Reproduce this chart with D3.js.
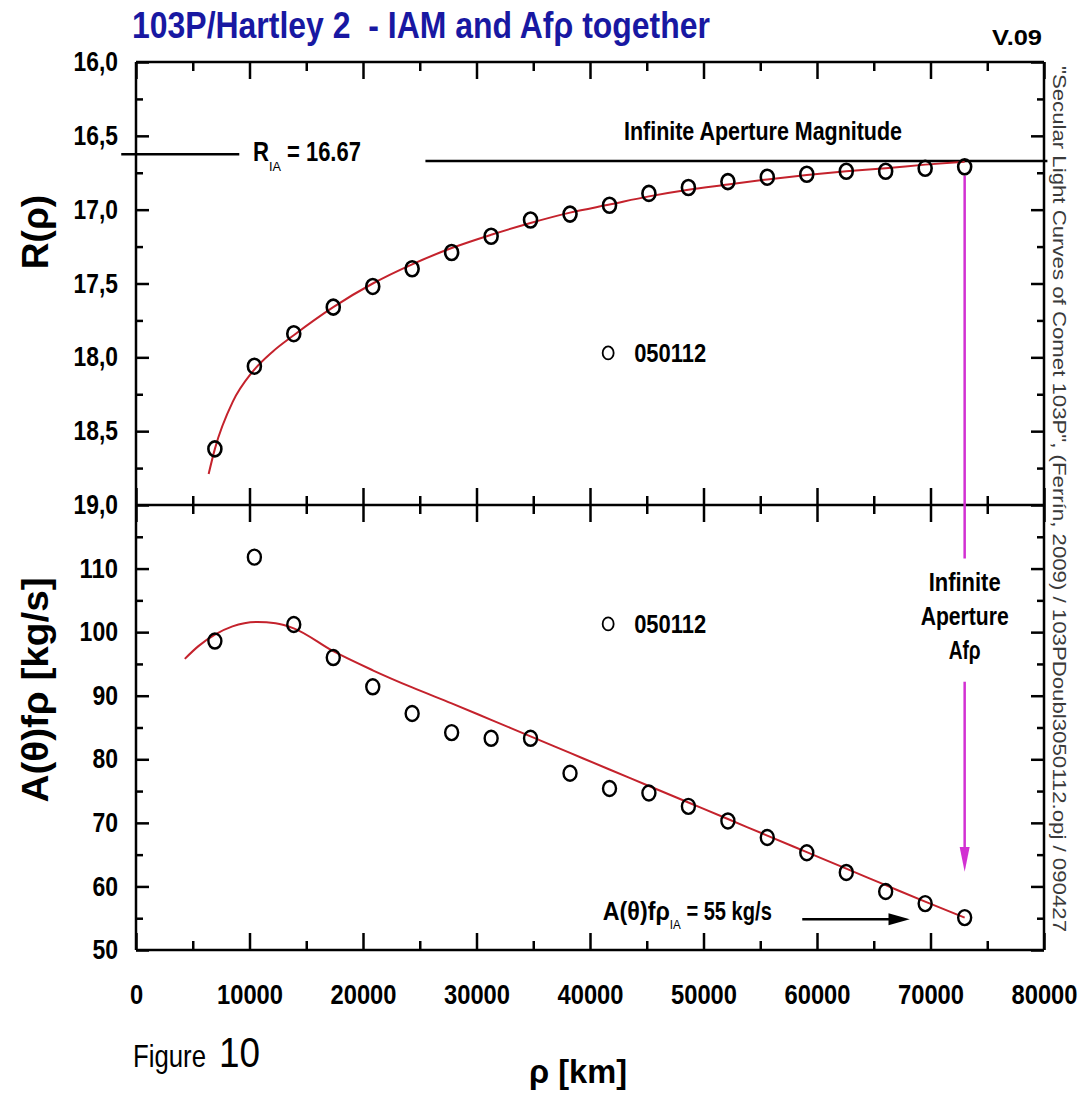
<!DOCTYPE html>
<html>
<head>
<meta charset="utf-8">
<script src="https://cdn.jsdelivr.net/npm/d3@7"></script>
<style>
  html, body { margin: 0; padding: 0; background: #fff; }
  svg { display: block; }
  text { font-family: "Liberation Sans Narrow", "Arial Narrow", "Liberation Sans", Arial, sans-serif; white-space: pre; }
</style>
</head>
<body>
<svg id="chart" width="1083" height="1095"></svg>
<script>
// aperture radius of each measurement [km]
const rho = [6950, 10430, 13900, 17380, 20860, 24330, 27810, 31290, 34760, 38240,
  41720, 45190, 48670, 52150, 55620, 59100, 62580, 66050, 69530, 73010];
// R magnitude inside the aperture
const rMag = [18.62, 18.06, 17.84, 17.66, 17.52, 17.40, 17.29, 17.18, 17.07, 17.03,
  16.97, 16.89, 16.85, 16.81, 16.78, 16.76, 16.74, 16.74, 16.72, 16.71];
// A(theta)f rho [kg/s]
const afrho = [98.6, 111.8, 101.2, 96.0, 91.4, 87.2, 84.2, 83.3, 83.3, 77.8,
  75.4, 74.7, 72.6, 70.3, 67.7, 65.3, 62.2, 59.2, 57.3, 55.1];

// red fit curves
const fitRhoTop = [6400, 6950, 8530, 10240, 12060, 13900, 17380, 20860, 24330, 27810, 31290,
  34760, 38240, 41720, 45190, 48670, 52150, 55620, 59100, 62580, 66050, 69530, 73010];
const fitRTop = [18.79, 18.62, 18.30, 18.10, 17.96, 17.85, 17.66, 17.50, 17.37, 17.26, 17.17,
  17.09, 17.02, 16.965, 16.91, 16.865, 16.83, 16.795, 16.765, 16.74, 16.72, 16.695, 16.675];
const fitRhoBot = [4300, 5500, 6950, 8500, 10700, 12300, 13900, 17380, 20860, 24330, 27810,
  31290, 34760, 38240, 41720, 45190, 48670, 52150, 55620, 59100, 62580, 66050, 69530, 73010];
const fitAfBot = [95.8, 97.8, 99.6, 100.9, 101.6, 101.4, 100.6, 97.0, 94.0, 91.3, 88.8,
  86.2, 83.6, 81.0, 78.4, 75.8, 73.2, 70.6, 68.0, 65.4, 62.8, 60.2, 57.6, 55.1];

const xMajor = [0, 10000, 20000, 30000, 40000, 50000, 60000, 70000, 80000];
const xMinor = [5000, 15000, 25000, 35000, 45000, 55000, 65000, 75000];
const rMajor = [16.0, 16.5, 17.0, 17.5, 18.0, 18.5, 19.0];
const rMinor = [16.25, 16.75, 17.25, 17.75, 18.25, 18.75];
const afMajor = [50, 60, 70, 80, 90, 100, 110];
const afMinor = [55, 65, 75, 85, 95, 105, 115];

const rIA = 16.67;
const afIA = 55;
const rhoIA = 73010;
const sourceNote = '"Secular Light Curves of Comet 103P", (Ferrín, 2009) / 103PDoubl3050112.opj / 090427';

const L = 136, R = 1044, T = 62, M = 505, B = 950;
const svg = d3.select('#chart');

const x = d3.scaleLinear().domain([0, 80000]).range([L, R]);
const yTop = d3.scaleLinear().domain([16, 19]).range([T, M]);
const yBot = d3.scaleLinear().domain([50, 120]).range([B, M]);

function label(str, px, py, size, opts = {}) {
  const t = svg.append('text')
    .attr('x', px)
    .attr('y', py)
    .attr('font-size', size)
    .attr('font-weight', opts.weight || 'bold')
    .attr('fill', opts.fill || '#000')
    .attr('text-anchor', opts.anchor || 'start')
    .text(str);
  if (opts.len) t.attr('textLength', opts.len).attr('lengthAdjust', 'spacingAndGlyphs');
  if (opts.family) t.style('font-family', opts.family);
  if (opts.transform) t.attr('transform', opts.transform);
  return t;
}

// text with a subscript, parts = [[string, size, weight, length, dy]]
function subLabel(parts, px, py) {
  const t = svg.append('text').attr('x', px).attr('y', py).attr('fill', '#000');
  parts.forEach(([s, size, weight, len, dy]) => {
    t.append('tspan')
      .attr('font-size', size)
      .attr('font-weight', weight)
      .attr('dy', dy)
      .attr('textLength', len)
      .attr('lengthAdjust', 'spacingAndGlyphs')
      .text(s);
  });
  return t;
}

// narrow bold tick labels: about 12.8px per digit, 6px per comma
function styleAxis(g) {
  g.select('.domain').remove();
  g.selectAll('.tick line').attr('stroke', '#000').attr('stroke-width', 2.5);
  g.selectAll('.tick text')
    .attr('font-size', 27)
    .attr('font-weight', 'bold')
    .attr('fill', '#000')
    .attr('lengthAdjust', 'spacingAndGlyphs')
    .attr('textLength', function () {
      const s = this.textContent;
      return s.replace(',', '').length * 12.8 + (s.includes(',') ? 6 : 0);
    });
}

// x ticks: top frame, shared middle line, bottom axis
svg.append('g').attr('transform', `translate(0,${T})`)
  .call(d3.axisTop(x).tickValues(xMajor).tickSize(-17).tickFormat('')).call(styleAxis);
svg.append('g').attr('transform', `translate(0,${T})`)
  .call(d3.axisTop(x).tickValues(xMinor).tickSize(-9).tickFormat('')).call(styleAxis);
svg.append('g').attr('transform', `translate(0,${M})`)
  .call(d3.axisTop(x).tickValues(xMajor).tickSize(-17).tickFormat('')).call(styleAxis);
svg.append('g').attr('transform', `translate(0,${M})`)
  .call(d3.axisBottom(x).tickValues(xMajor).tickSize(-17).tickFormat('')).call(styleAxis);
svg.append('g').attr('transform', `translate(0,${M})`)
  .call(d3.axisTop(x).tickValues(xMinor).tickSize(-9).tickFormat('')).call(styleAxis);
svg.append('g').attr('transform', `translate(0,${M})`)
  .call(d3.axisBottom(x).tickValues(xMinor).tickSize(-9).tickFormat('')).call(styleAxis);
svg.append('g').attr('transform', `translate(0,${B})`)
  .call(d3.axisBottom(x).tickValues(xMajor).tickSize(-17).tickPadding(35).tickFormat(d3.format('d')))
  .call(styleAxis)
  .call(g => g.selectAll('.tick text').attr('font-size', 27)
    .attr('textLength', function () { return this.textContent.length * 13.2; }));
svg.append('g').attr('transform', `translate(0,${B})`)
  .call(d3.axisBottom(x).tickValues(xMinor).tickSize(-9).tickFormat('')).call(styleAxis);

// y ticks, left with labels, right mirrored
const commaFmt = d => d.toFixed(1).replace('.', ',');
svg.append('g').attr('transform', `translate(${L},0)`)
  .call(d3.axisLeft(yTop).tickValues(rMajor).tickSize(-13).tickPadding(18).tickFormat(commaFmt)).call(styleAxis);
svg.append('g').attr('transform', `translate(${L},0)`)
  .call(d3.axisLeft(yTop).tickValues(rMinor).tickSize(-7).tickFormat('')).call(styleAxis);
svg.append('g').attr('transform', `translate(${R},0)`)
  .call(d3.axisRight(yTop).tickValues(rMajor).tickSize(-13).tickFormat('')).call(styleAxis);
svg.append('g').attr('transform', `translate(${R},0)`)
  .call(d3.axisRight(yTop).tickValues(rMinor).tickSize(-7).tickFormat('')).call(styleAxis);
svg.append('g').attr('transform', `translate(${L},0)`)
  .call(d3.axisLeft(yBot).tickValues(afMajor).tickSize(-13).tickPadding(18).tickFormat(d3.format('d'))).call(styleAxis);
svg.append('g').attr('transform', `translate(${L},0)`)
  .call(d3.axisLeft(yBot).tickValues(afMinor).tickSize(-7).tickFormat('')).call(styleAxis);
svg.append('g').attr('transform', `translate(${R},0)`)
  .call(d3.axisRight(yBot).tickValues(afMajor).tickSize(-13).tickFormat('')).call(styleAxis);
svg.append('g').attr('transform', `translate(${R},0)`)
  .call(d3.axisRight(yBot).tickValues(afMinor).tickSize(-7).tickFormat('')).call(styleAxis);

// frame
const frame = svg.append('g').attr('stroke', '#000').attr('stroke-width', 2.5);
[[L, T, R, T], [L, M, R, M], [L, B, R, B], [L, T, L, B], [R, T, R, B]].forEach(([x1, y1, x2, y2]) => {
  frame.append('line').attr('x1', x1).attr('y1', y1).attr('x2', x2).attr('y2', y2);
});

// infinite aperture magnitude line with a gap for its label
svg.append('line')
  .attr('x1', x(-1300)).attr('x2', x(9100))
  .attr('y1', yTop(16.625)).attr('y2', yTop(16.625))
  .attr('stroke', '#000').attr('stroke-width', 2.5);
svg.append('line')
  .attr('x1', x(25500)).attr('x2', x(80300))
  .attr('y1', yTop(rIA)).attr('y2', yTop(rIA))
  .attr('stroke', '#000').attr('stroke-width', 2.5);

// fit curves
const red = '#c4222c';
svg.append('path')
  .datum(fitRhoTop.map((d, i) => [d, fitRTop[i]]))
  .attr('fill', 'none').attr('stroke', red).attr('stroke-width', 2)
  .attr('d', d3.line().x(d => x(d[0])).y(d => yTop(d[1])).curve(d3.curveMonotoneX));
svg.append('path')
  .datum(fitRhoBot.map((d, i) => [d, fitAfBot[i]]))
  .attr('fill', 'none').attr('stroke', red).attr('stroke-width', 2)
  .attr('d', d3.line().x(d => x(d[0])).y(d => yBot(d[1])).curve(d3.curveMonotoneX));

// data points
svg.append('g').selectAll('ellipse')
  .data(rho.map((d, i) => ({ rho: d, r: rMag[i] })))
  .enter()
  .append('ellipse')
  .attr('cx', d => x(d.rho)).attr('cy', d => yTop(d.r))
  .attr('rx', 6.5).attr('ry', 7.5)
  .attr('fill', 'none').attr('stroke', '#000').attr('stroke-width', 2.6);
svg.append('g').selectAll('ellipse')
  .data(rho.map((d, i) => ({ rho: d, a: afrho[i] })))
  .enter()
  .append('ellipse')
  .attr('cx', d => x(d.rho)).attr('cy', d => yBot(d.a))
  .attr('rx', 6.5).attr('ry', 7.5)
  .attr('fill', 'none').attr('stroke', '#000').attr('stroke-width', 2.4);

// legends
[yTop(17.97), yBot(101.3)].forEach((ly) => {
  svg.append('ellipse').attr('cx', x(41600)).attr('cy', ly).attr('rx', 5.5).attr('ry', 6.5)
    .attr('fill', 'none').attr('stroke', '#000').attr('stroke-width', 1.8);
  label('050112', x(41600) + 26, ly + 9, 26, { len: 72 });
});

// magenta "infinite aperture" arrow
const magenta = '#d230d2';
svg.append('line')
  .attr('x1', x(rhoIA)).attr('x2', x(rhoIA))
  .attr('y1', yTop(16.77)).attr('y2', yBot(111.6))
  .attr('stroke', magenta).attr('stroke-width', 2.5);
svg.append('line')
  .attr('x1', x(rhoIA)).attr('x2', x(rhoIA))
  .attr('y1', yBot(92.2)).attr('y2', yBot(64))
  .attr('stroke', magenta).attr('stroke-width', 2.5);
svg.append('path')
  .attr('d', `M${x(rhoIA) - 5},${yBot(66.2)} L${x(rhoIA) + 5},${yBot(66.2)} L${x(rhoIA)},${yBot(62.3)} Z`)
  .attr('fill', magenta);
label('Infinite', x(rhoIA), 591, 26, { anchor: 'middle', len: 72 });
label('Aperture', x(rhoIA), 625, 26, { anchor: 'middle', len: 88 });
label('Afρ', x(rhoIA), 659, 26, { anchor: 'middle', len: 32 });

// A(theta)f rho IA label with black arrow
const aY = yBot(afIA) + 2;
subLabel([
  ['A(θ)fρ', 26, 'bold', 67, 0],
  ['IA', 12, 'normal', 11, 9],
  [' = 55 kg/s', 26, 'bold', 91, -9],
], x(41130), aY);
svg.append('line')
  .attr('x1', x(58700)).attr('x2', x(66500))
  .attr('y1', aY - 1).attr('y2', aY - 1)
  .attr('stroke', '#000').attr('stroke-width', 2.5);
svg.append('path')
  .attr('d', `M${x(66300)},${aY - 7} L${x(68170)},${aY - 1} L${x(66300)},${aY + 5} Z`)
  .attr('fill', '#000');

// R IA label and infinite aperture magnitude text
subLabel([
  ['R', 28, 'bold', 16, 0],
  ['IA', 13, 'normal', 12, 10],
  [' = 16.67', 28, 'bold', 80, -10],
], x(10300), 161);
label('Infinite Aperture Magnitude', 763, 140, 26, { anchor: 'middle', len: 278 });

// titles
label('103P/Hartley 2  - IAM and Afρ together', 132, 38, 37, { fill: '#1818a2', len: 578 });
label('V.09', R - 2, 45, 22, { anchor: 'end', len: 50 });
label('R(ρ)', 48, 232, 37, {
  anchor: 'middle', family: '"Liberation Sans", Arial, sans-serif', transform: 'rotate(-90,48,232)',
});
label('A(θ)fρ [kg/s]', 48, 690, 36, {
  anchor: 'middle', family: '"Liberation Sans", Arial, sans-serif', transform: 'rotate(-90,48,690)', len: 225,
});
label('ρ [km]', 578, 1083, 34, { anchor: 'middle', family: '"Liberation Sans", Arial, sans-serif', len: 98 });
label('Figure', 133, 1067, 32, { weight: 'normal', len: 73 });
label('10', 219, 1067, 42, { weight: 'normal', len: 41 });
label(sourceNote, 1053, 66, 19, {
  weight: 'normal', fill: '#3a3a3a', family: '"Liberation Sans", Arial, sans-serif',
  transform: 'rotate(90,1053,66)', len: 866,
});
</script>
</body>
</html>
